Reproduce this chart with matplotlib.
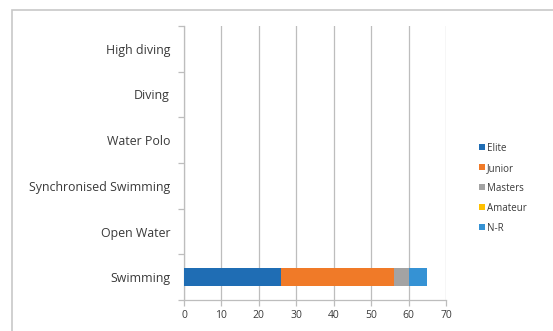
import numpy as np
import matplotlib.pyplot as plt
import matplotlib.patches as patches

categories = ["Swimming", "Open Water", "Synchronised Swimming", "Water Polo", "Diving", "High diving"]
series = ["Elite", "Junior", "Masters", "Amateur", "N-R"]
values = {
    "Elite":   [26, 0, 0, 0, 0, 0],
    "Junior":  [30, 0, 0, 0, 0, 0],
    "Masters": [4, 0, 0, 0, 0, 0],
    "Amateur": [0, 0, 0, 0, 0, 0],
    "N-R":     [5, 0, 0, 0, 0, 0],
}
colors = ["#1f6db4", "#f07a28", "#a3a3a3", "#ffc000", "#3592d4"]
xticks = [0, 10, 20, 30, 40, 50, 60, 70]

plt.rcParams["font.family"] = ["Open Sans", "DejaVu Sans"]

W, H = 553, 331
fig = plt.figure(figsize=(W / 100, H / 100), dpi=100)
ax = fig.add_axes([184 / W, 1 - 300 / H, (446 - 184) / W, (300 - 26) / H])

# outer chart frame
fig.patches.append(patches.Rectangle((12 / W, -0.05), 1.0, 1 - 10 / H + 0.05,
                                     transform=fig.transFigure, fill=False,
                                     edgecolor="#c8c8c8", linewidth=1.2))

y = np.arange(len(categories))
left = np.zeros(len(categories))
for name, col in zip(series, colors):
    v = np.array(values[name], dtype=float)
    ax.barh(y, v, left=left, height=0.4, color=col, label=name, zorder=3)
    left += v

ax.set_xlim(0, 70)
ax.set_ylim(-0.5, len(categories) - 0.5)
ax.set_xticks(xticks)
ax.set_yticks(y)
ax.set_yticklabels(categories)
ax.set_yticks(np.arange(-0.5, len(categories), 1), minor=True)

ax.grid(True, axis="x", color="#bdbdbd", linewidth=0.9, zorder=0)
ax.tick_params(axis="y", which="major", length=0, pad=10, labelsize=8.9, labelcolor="#3a3a3a")
ax.tick_params(axis="y", which="minor", length=4, color="#bdbdbd", width=0.9)
ax.tick_params(axis="x", which="major", length=4, color="#bdbdbd", width=0.9,
               labelsize=7.5, labelcolor="#3a3a3a", pad=3)

for s in ["top", "right"]:
    ax.spines[s].set_visible(False)
for s in ["left", "bottom"]:
    ax.spines[s].set_color("#bdbdbd")
    ax.spines[s].set_linewidth(0.9)

fig.legend(loc="upper left", bbox_to_anchor=(470 / W, 1 - 134 / H), frameon=False,
           fontsize=7, handlelength=0.6, handleheight=0.6, handletextpad=0.2,
           labelspacing=0.92, labelcolor="#3a3a3a")

fig.savefig("out.png", dpi=100)
